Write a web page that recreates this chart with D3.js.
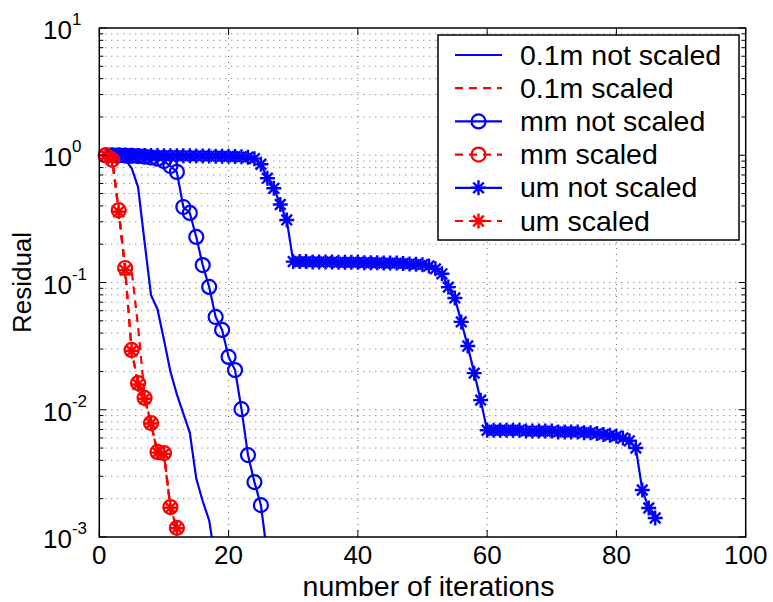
<!DOCTYPE html>
<html>
<head>
<meta charset="utf-8">
<script src="https://cdn.jsdelivr.net/npm/d3@7"></script>
<style>
  html, body { margin: 0; padding: 0; background: #fff; }
  svg { display: block; font-family: "Liberation Sans", Arial, Helvetica, sans-serif; }
</style>
</head>
<body>
<svg id="chart" width="773" height="602"></svg>
<script>
// Residual history per iteration (iterations start at 1)
const res01NotScaled = [1.0, 0.995, 0.977, 0.923, 0.794, 0.562, 0.209, 0.0794, 0.0617, 0.0355,
  0.0200, 0.0132, 0.00933, 0.00661, 0.00288, 0.00191, 0.00135, 0.00063];
const res01Scaled = [1.0, 0.92, 0.37, 0.13, 0.125, 0.045, 0.013, 0.0078, 0.0046, 0.0045, 0.0017, 0.00117];
const resMmNotScaled = [1.0, 1.0, 0.998, 0.995, 0.99, 0.985, 0.975, 0.96, 0.94, 0.9,
  0.823, 0.739, 0.392, 0.352, 0.228, 0.137, 0.0923, 0.0536, 0.0424, 0.026,
  0.0205, 0.0101, 0.0044, 0.0027, 0.00178, 0.00072];
const resMmScaled = [1.0, 0.92, 0.37, 0.13, 0.0295, 0.0162, 0.0124, 0.00787, 0.00466, 0.00457, 0.00172, 0.00118];
const resUmNotScaled = [
  1.0, 1.0, 1.0, 1.0, 0.998, 0.997, 0.996, 0.995, 0.994, 0.993,
  0.992, 0.991, 0.99, 0.989, 0.988, 0.987, 0.986, 0.984, 0.982, 0.98,
  0.977, 0.973, 0.965, 0.94, 0.85, 0.66, 0.55, 0.41, 0.31, 0.146,
  0.146, 0.146, 0.145, 0.145, 0.145, 0.145, 0.144, 0.144, 0.144, 0.144,
  0.143, 0.143, 0.143, 0.142, 0.142, 0.142, 0.141, 0.140, 0.139, 0.138,
  0.135, 0.128, 0.117, 0.092, 0.0756, 0.049, 0.0317, 0.0194, 0.0119, 0.0069,
  0.0069, 0.0069, 0.0069, 0.0069, 0.0069, 0.0068, 0.0068, 0.0068, 0.0068, 0.0068,
  0.0067, 0.0067, 0.0067, 0.0067, 0.0066, 0.0066, 0.0065, 0.0064, 0.0063, 0.0062,
  0.0060, 0.0057, 0.0050, 0.00234, 0.00169, 0.00141];
const resUmScaled = [1.0, 0.93, 0.36, 0.125, 0.029, 0.0158, 0.0122, 0.0078, 0.0046, 0.0045, 0.0017, 0.00117];

const seriesNames = ["0.1m not scaled", "0.1m scaled", "mm not scaled", "mm scaled", "um not scaled", "um scaled"];
const xTicks = [0, 20, 40, 60, 80, 100];
const yTickExponents = [-3, -2, -1, 0, 1];
const xLabel = "number of iterations";
const yLabel = "Residual";

const BLUE = "#0000ff", RED = "#ff0000";
const series = [
  { name: seriesNames[0], values: res01NotScaled, color: BLUE, dash: null, marker: null },
  { name: seriesNames[1], values: res01Scaled, color: RED, dash: "8,6", marker: null },
  { name: seriesNames[2], values: resMmNotScaled, color: BLUE, dash: null, marker: "circle" },
  { name: seriesNames[3], values: resMmScaled, color: RED, dash: "8,6", marker: "circle" },
  { name: seriesNames[4], values: resUmNotScaled, color: BLUE, dash: null, marker: "star" },
  { name: seriesNames[5], values: resUmScaled, color: RED, dash: "8,6", marker: "star" }
];

const L = 99.3, R = 745.7, T = 28, B = 537;
const svg = d3.select("#chart");
const x = d3.scaleLinear().domain([0, 100]).range([L, R]);
const y = d3.scaleLog().domain([1e-3, 10]).range([B, T]);

// dotted grid (major x, all log decades with minor subdivisions)
const grid = svg.append("g").attr("stroke", "#666").attr("stroke-width", 1)
  .attr("stroke-dasharray", "1,5");
xTicks.slice(1, -1).forEach(t => {
  grid.append("line").attr("x1", x(t)).attr("x2", x(t)).attr("y1", B).attr("y2", T);
});
const logTicks = [];
for (let e = -3; e < 1; e++) for (let m = 1; m <= 9; m++) logTicks.push(m * Math.pow(10, e));
logTicks.filter(v => v > 1e-3 * 1.0001).forEach(v => {
  grid.append("line").attr("x1", L).attr("x2", R).attr("y1", y(v)).attr("y2", y(v));
});

// clip for the residual lines
svg.append("clipPath").attr("id", "plotClip").append("rect")
  .attr("x", L).attr("y", T).attr("width", R - L).attr("height", B - T);

const lineGen = d3.line().x(d => x(d.i)).y(d => y(d.v));
const pts = s => s.values.map((v, k) => ({ i: k + 1, v }));

function drawMarker(g, kind, cx, cy, color) {
  if (kind === "circle") {
    g.append("circle").attr("cx", cx).attr("cy", cy).attr("r", 7)
      .attr("fill", "none").attr("stroke", color).attr("stroke-width", 2.2);
  } else if (kind === "star") {
    const a = 7.5, b = 5.3;
    const p = `M${cx - a},${cy}L${cx + a},${cy}M${cx},${cy - a}L${cx},${cy + a}` +
      `M${cx - b},${cy - b}L${cx + b},${cy + b}M${cx - b},${cy + b}L${cx + b},${cy - b}`;
    g.append("path").attr("d", p).attr("stroke", color).attr("stroke-width", 2.4).attr("fill", "none");
  }
}

// draw the not-scaled (blue) runs first, then the scaled (red) runs on top
const drawOrder = [0, 2, 4, 1, 3, 5];
drawOrder.forEach(idx => {
  const s = series[idx];
  const g = svg.append("g");
  const data = pts(s);
  g.append("path").attr("d", lineGen(data)).attr("clip-path", "url(#plotClip)")
    .attr("fill", "none").attr("stroke", s.color).attr("stroke-width", 2.2)
    .attr("stroke-dasharray", s.dash);
  if (s.marker) {
    data.filter(d => d.v >= 1e-3 && d.v <= 10).forEach(d => drawMarker(g, s.marker, x(d.i), y(d.v), s.color));
  }
});

// axes box with inward ticks on all sides
const axes = svg.append("g").attr("stroke", "#000").attr("fill", "none");
axes.append("rect").attr("x", L).attr("y", T).attr("width", R - L).attr("height", B - T)
  .attr("stroke-width", 1.5);
xTicks.forEach(t => {
  axes.append("line").attr("x1", x(t)).attr("x2", x(t)).attr("y1", B).attr("y2", B - 7);
  axes.append("line").attr("x1", x(t)).attr("x2", x(t)).attr("y1", T).attr("y2", T + 7);
});
const allLog = [];
for (let e = -3; e <= 0; e++) for (let m = 1; m <= 9; m++) allLog.push(m * Math.pow(10, e));
allLog.push(10);
allLog.forEach(v => {
  const major = Math.abs(Math.log10(v) - Math.round(Math.log10(v))) < 1e-9;
  const len = major ? 7 : 4;
  axes.append("line").attr("x1", L).attr("x2", L + len).attr("y1", y(v)).attr("y2", y(v));
  axes.append("line").attr("x1", R).attr("x2", R - len).attr("y1", y(v)).attr("y2", y(v));
});

// tick labels
const tickFont = 26;
svg.append("g").selectAll("text").data(xTicks).join("text")
  .attr("x", d => x(d)).attr("y", 564).attr("text-anchor", "middle")
  .attr("font-size", tickFont).attr("fill", "#000").text(d => d);

const yl = svg.append("g").selectAll("text").data(yTickExponents).join("text")
  .attr("x", 43).attr("y", d => y(Math.pow(10, d)) + 11)
  .attr("font-size", tickFont).attr("fill", "#000");
yl.append("tspan").text("10");
yl.append("tspan").attr("dy", -14).attr("font-size", 17).text(d => d < 0 ? "-" + (-d) : String(d));

// axis titles
svg.append("text").attr("x", (L + R) / 2 + 6).attr("y", 596).attr("text-anchor", "middle")
  .attr("font-size", 28.5).attr("fill", "#000").text(xLabel);
svg.append("text").attr("transform", `translate(31,${(T + B) / 2}) rotate(-90)`)
  .attr("text-anchor", "middle").attr("font-size", 26).attr("fill", "#000").text(yLabel);

// legend
const leg = svg.append("g");
const lx0 = 438, ly0 = 35, lw = 301, lh = 205;
leg.append("rect").attr("x", lx0).attr("y", ly0).attr("width", lw).attr("height", lh)
  .attr("fill", "#fff").attr("stroke", "#000").attr("stroke-width", 1.5);
series.forEach((s, k) => {
  const cy = 55 + k * 33.2;
  leg.append("line").attr("x1", 455).attr("x2", 502).attr("y1", cy).attr("y2", cy)
    .attr("stroke", s.color).attr("stroke-width", 2.2).attr("stroke-dasharray", s.dash);
  if (s.marker) drawMarker(leg, s.marker, 478.5, cy, s.color);
  leg.append("text").attr("x", 520).attr("y", cy + 9.5).attr("font-size", 28.5)
    .attr("fill", "#000").text(s.name);
});
</script>
</body>
</html>
